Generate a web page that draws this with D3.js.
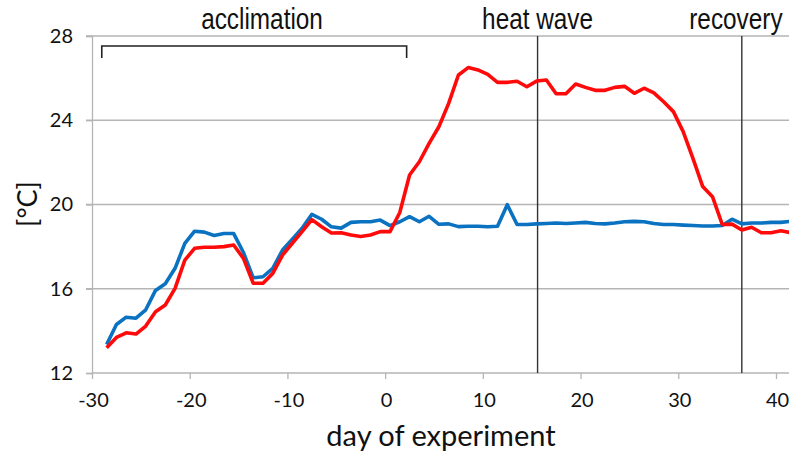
<!DOCTYPE html>
<html><head><meta charset="utf-8">
<script src="https://cdn.jsdelivr.net/npm/d3@7/dist/d3.min.js"></script>
<style>body{margin:0;background:#fff}svg{display:block}</style>
</head><body>
<svg id="c" width="789" height="455"></svg>
<script>
const days = [-28.5,-27.5,-26.5,-25.5,-24.5,-23.5,-22.5,-21.5,-20.5,-19.5,-18.5,-17.5,-16.5,-15.5,-14.5,-13.5,-12.5,-11.5,-10.5,-9.5,-8.5,-7.5,-6.5,-5.5,-4.5,-3.5,-2.5,-1.5,-0.5,0.5,1.5,2.5,3.5,4.5,5.5,6.5,7.5,8.5,9.5,10.5,11.5,12.5,13.5,14.5,15.5,16.5,17.5,18.5,19.5,20.5,21.5,22.5,23.5,24.5,25.5,26.5,27.5,28.5,29.5,30.5,31.5,32.5,33.5,34.5,35.5,36.5,37.5,38.5,39.5,40.5,41.5];
const heatTemp = [13.2,13.69,13.91,13.85,14.23,14.91,15.23,16.02,17.36,17.92,17.97,17.97,18.0,18.08,17.44,16.26,16.26,16.73,17.6,18.16,18.71,19.28,18.94,18.65,18.66,18.55,18.48,18.55,18.71,18.71,19.62,21.4,22.03,22.9,23.69,24.8,26.15,26.5,26.39,26.18,25.8,25.8,25.85,25.59,25.86,25.91,25.26,25.26,25.72,25.56,25.42,25.42,25.56,25.61,25.28,25.52,25.3,24.88,24.41,23.46,22.19,20.85,20.37,19.05,19.07,18.79,18.92,18.66,18.66,18.75,18.66];
const controlTemp = [13.35,14.3,14.65,14.6,15.0,15.92,16.24,16.97,18.15,18.73,18.69,18.53,18.62,18.62,17.72,16.52,16.57,16.97,17.84,18.35,18.87,19.53,19.3,18.94,18.88,19.15,19.18,19.18,19.26,19.0,19.18,19.42,19.18,19.44,19.06,19.08,18.95,18.97,18.97,18.94,18.97,19.99,19.05,19.05,19.08,19.1,19.12,19.1,19.12,19.15,19.1,19.08,19.12,19.18,19.2,19.18,19.1,19.05,19.05,19.02,19.0,18.98,18.98,19.0,19.3,19.08,19.12,19.12,19.15,19.15,19.2];
const xTicks = [-30,-20,-10,0,10,20,30,40];
const yTicks = [12,16,20,24,28];
const phaseLabels = ["acclimation","heat wave","recovery"];
const phaseLabelDays = [-12.6,15.6,35.9];
const phaseLineDays = [15.6,36.5];
const bracketDays = [-29,2.2];

const W = 789, H = 455;
const svg = d3.select("#c");
const x = d3.scaleLinear().domain([-30,40]).range([92,776]);
const y = d3.scaleLinear().domain([12,28]).range([373,36]);
const grid = "#b5b5b5";
const tickFont = "Lato, 'Noto Sans', sans-serif";

svg.append("defs").append("clipPath").attr("id","clip")
  .append("rect").attr("x",0).attr("y",0).attr("width",W).attr("height",H);

// horizontal gridlines
svg.append("g").selectAll("line").data(yTicks.filter(d=>d>12)).join("line")
  .attr("x1",x(-30)-6).attr("x2",W).attr("y1",d=>y(d)).attr("y2",d=>y(d))
  .attr("stroke",grid).attr("stroke-width",1.3);

// y axis
const yAxis = svg.append("g").attr("transform",`translate(${x(-30)},0)`)
  .call(d3.axisLeft(y).tickValues(yTicks).tickSize(6).tickPadding(13).tickFormat(d=>String(d)));
yAxis.select(".domain").attr("stroke",grid).attr("stroke-width",1.3);
yAxis.selectAll(".tick line").attr("stroke",grid).attr("stroke-width",1.3);
yAxis.selectAll("text").attr("font-family",tickFont).attr("font-size",20).attr("fill","#111");

// x axis
const xAxis = svg.append("g").attr("transform",`translate(0,${y(12)})`)
  .call(d3.axisBottom(x).tickValues(xTicks).tickSize(6).tickPadding(14).tickFormat(d=>String(d)));
xAxis.select(".domain").remove();
xAxis.append("line").attr("x1",x(-30)).attr("x2",W).attr("stroke",grid).attr("stroke-width",1.3);
xAxis.selectAll(".tick line").attr("stroke",grid).attr("stroke-width",1.3);
xAxis.selectAll("text").attr("font-family",tickFont).attr("font-size",20).attr("fill","#111").attr("dx",1);

// phase lines
svg.append("g").selectAll("line").data(phaseLineDays).join("line")
  .attr("x1",d=>x(d)).attr("x2",d=>x(d)).attr("y1",y(28)).attr("y2",y(12))
  .attr("stroke","#333").attr("stroke-width",1.4);

// bracket
svg.append("path")
  .attr("d",`M${x(bracketDays[0])},${y(28)+22}V${y(28)+10}H${x(bracketDays[1])}V${y(28)+22}`)
  .attr("fill","none").attr("stroke","#222").attr("stroke-width",1.6);

// phase labels (condensed)
svg.append("g").selectAll("text").data(phaseLabels).join("text")
  .attr("transform",(d,i)=>`translate(${x(phaseLabelDays[i])},29) scale(0.84,1)`)
  .attr("text-anchor","middle")
  .attr("font-family","'Liberation Sans',Arial,sans-serif")
  .attr("font-size",29).attr("fill","#111").text(d=>d);

// lines
const line = vals => d3.line().x((d,i)=>x(days[i])).y(d=>y(d))(vals);
const g = svg.append("g").attr("clip-path","url(#clip)");
g.append("path").attr("d",line(controlTemp)).attr("fill","none")
  .attr("stroke","#0a72c0").attr("stroke-width",3.6).attr("stroke-linejoin","round");
g.append("path").attr("d",line(heatTemp)).attr("fill","none")
  .attr("stroke","#fe0a0a").attr("stroke-width",3.6).attr("stroke-linejoin","round");

// axis titles
svg.append("text").attr("x",441).attr("y",446).attr("text-anchor","middle")
  .attr("font-family",tickFont).attr("font-size",29).attr("fill","#111").text("day of experiment");
svg.append("text").attr("transform","translate(28,204) rotate(-90)").attr("text-anchor","middle")
  .attr("dy","0.35em").attr("font-family",tickFont).attr("font-size",27).attr("fill","#111").text("[°C]");
</script>
</body></html>
